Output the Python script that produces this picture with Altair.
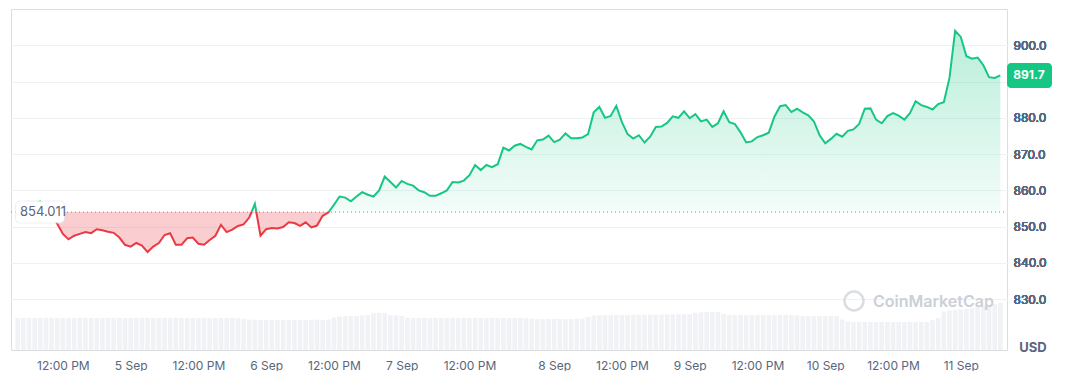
import altair as alt
import pandas as pd

# ---- data ----
hours = list(range(4, 179))  # time index, hours from 4 Sep 00:00 (display axis)
price = [
    855.8, 856.3, 855.9, 856.5, 857.0, 855.5, 853.5, 850.8, 848.0, 846.5,
    847.5, 848.0, 848.5, 848.2, 849.3, 849.0, 848.6, 848.3, 847.0, 845.0,
    844.5, 845.5, 844.8, 843.0, 844.5, 845.5, 847.7, 848.2, 845.0, 845.0,
    846.8, 847.0, 845.3, 845.0, 846.3, 847.5, 850.5, 848.5, 849.2, 850.2,
    850.6, 852.5, 856.3, 847.5, 849.3, 849.6, 849.5, 849.9, 851.2, 851.0,
    850.2, 851.2, 849.8, 850.3, 853.0, 853.9, 856.0, 858.3, 858.0, 857.0,
    858.3, 859.5, 858.8, 858.3, 860.0, 863.8, 862.3, 860.8, 862.6, 861.8,
    861.3, 860.0, 859.5, 858.5, 858.5, 859.2, 860.0, 862.3, 862.2, 862.7,
    864.2, 867.0, 865.6, 867.0, 866.4, 867.2, 871.8, 871.0, 872.3, 872.8,
    872.0, 871.3, 873.8, 874.0, 875.1, 873.3, 874.0, 875.7, 874.4, 874.4,
    874.6, 875.5, 881.5, 883.0, 880.0, 880.5, 883.3, 878.8, 875.5, 874.3,
    875.2, 873.2, 874.8, 877.5, 877.6, 878.6, 880.4, 880.0, 881.8, 879.9,
    881.0, 879.0, 879.5, 877.5, 878.5, 881.8, 878.8, 878.3, 876.0, 873.2,
    873.5, 874.7, 875.2, 875.9, 880.3, 883.2, 883.5, 881.6, 882.5, 881.5,
    880.7, 879.0, 875.2, 873.0, 874.2, 875.6, 874.8, 876.4, 876.8, 878.3,
    882.5, 882.6, 879.5, 878.5, 880.5, 881.3, 880.6, 879.5, 881.3, 884.6,
    883.5, 883.0, 882.3, 883.8, 884.3, 891.0, 904.0, 902.3, 897.0, 896.3,
    896.6, 894.5, 891.2, 891.0, 891.7,
]
volume = [
    320, 322, 321, 319, 320, 322, 323, 321, 320, 319,
    320, 321, 322, 320, 319, 320, 321, 322, 321, 320,
    319, 320, 322, 321, 320, 319, 320, 321, 322, 320,
    319, 320, 321, 320, 318, 319, 320, 321, 320, 318,
    312, 305, 302, 300, 301, 300, 302, 301, 300, 302,
    301, 300, 302, 303, 301, 305, 325, 335, 338, 340,
    342, 345, 350, 368, 372, 370, 348, 345, 340, 322,
    320, 321, 320, 319, 320, 321, 320, 322, 321, 320,
    319, 320, 321, 320, 322, 320, 321, 320, 319, 320,
    318, 312, 310, 309, 310, 311, 310, 309, 310, 312,
    315, 330, 345, 348, 350, 350, 352, 351, 350, 352,
    353, 352, 355, 354, 355, 356, 355, 356, 357, 358,
    372, 378, 380, 381, 380, 360, 352, 350, 351, 350,
    349, 350, 351, 350, 349, 350, 351, 350, 345, 340,
    340, 341, 340, 342, 341, 340, 305, 285, 280, 281,
    280, 279, 280, 281, 280, 279, 280, 281, 280, 282,
    281, 280, 300, 320, 385, 395, 400, 405, 410, 420,
    430, 440, 450, 460, 470,
]
base_price = 854.011
tick_hours = [12, 24, 36, 48, 60, 72, 84, 99, 111, 123, 135, 147, 159, 171]
tick_labels = ["12:00 PM", "5 Sep", "12:00 PM", "6 Sep", "12:00 PM", "7 Sep", "12:00 PM",
               "8 Sep", "12:00 PM", "9 Sep", "12:00 PM", "10 Sep", "12:00 PM", "11 Sep"]
grid_values = [830, 840, 850, 860, 870, 880, 890, 900]
hidden_label = 890

# ---- styling ----
W, H = 996, 341
GREEN = "#16c784"
RED = "#ea3943"
GREY = "#58667e"
FONT = "Inter"

df = pd.DataFrame({"t": hours, "price": price, "vol": volume})
last = df.tail(1)
base_df = pd.DataFrame({"base": [base_price]})

xs = alt.Scale(domain=[3.7, 178.3], nice=False, zero=False)
ys = alt.Scale(domain=[816, 910], nice=False, zero=False)
vs = alt.Scale(domain=[0, 3410], nice=False, zero=True)

label_expr = ("[" + ",".join("'%s'" % l for l in tick_labels) + "][indexof(["
              + ",".join(str(h) for h in tick_hours) + "], datum.value)]")
x_axis = alt.Axis(values=tick_hours, labelExpr=label_expr, grid=False, domain=False,
                  ticks=False, labelPadding=10, labelColor=GREY, labelFontSize=12,
                  labelFont=FONT, title=None)
y_axis = alt.Axis(orient="right", values=grid_values,
                  grid=True, gridColor="#eff2f5", domain=False, ticks=False,
                  labelPadding=6, labelColor=GREY, labelFontSize=12, labelFont=FONT,
                  title=None,
                  labelExpr="datum.value == %d ? '' : format(datum.value, '.1f')" % hidden_label)

X = alt.X("t:Q", scale=xs, axis=x_axis)

vol_layer = alt.Chart(df).mark_bar(color="#f0f2f5", width=4.6, clip=True).encode(
    x=X, y=alt.Y("vol:Q", scale=vs, axis=None)
)

pmax, pmin = max(price), min(price)
off = (pmax - base_price) / (pmax - pmin)

green_fill = alt.Gradient(
    gradient="linear",
    stops=[alt.GradientStop(color="rgba(22,199,132,0.30)", offset=0),
           alt.GradientStop(color="rgba(22,199,132,0.05)", offset=1)],
    x1=0, x2=0, y1=0, y2=1,
)
line_stroke = alt.Gradient(
    gradient="linear",
    stops=[alt.GradientStop(color=GREEN, offset=0),
           alt.GradientStop(color=GREEN, offset=off),
           alt.GradientStop(color=RED, offset=off),
           alt.GradientStop(color=RED, offset=1)],
    x1=0, x2=0, y1=0, y2=1,
)

red_area = alt.Chart(df).transform_calculate(
    lo="min(datum.price, %f)" % base_price
).mark_area(color=RED, opacity=0.25).encode(
    x=X, y=alt.Y("lo:Q", scale=ys, axis=y_axis), y2=alt.datum(base_price)
)
green_area = alt.Chart(df).transform_calculate(
    hi="max(datum.price, %f)" % base_price
).mark_area(fill=green_fill).encode(
    x=X, y=alt.Y("hi:Q", scale=ys, axis=y_axis), y2=alt.datum(base_price)
)
base_rule = alt.Chart(base_df).mark_rule(color="#808a9d", strokeDash=[1, 3], strokeWidth=1).encode(
    y=alt.Y("base:Q", scale=ys, axis=y_axis), x=alt.value(0), x2=alt.value(W)
)
price_line = alt.Chart(df).mark_line(stroke=line_stroke, strokeWidth=2).encode(
    x=X, y=alt.Y("price:Q", scale=ys, axis=y_axis)
)

base_shadow = alt.Chart(base_df).mark_rect(
    fill="#e6e9ee", height=23, cornerRadius=5, opacity=0.7
).encode(y=alt.Y("base:Q", scale=ys, axis=y_axis), x=alt.value(4), x2=alt.value(54))
base_box = alt.Chart(base_df).mark_rect(
    fill="white", height=21, cornerRadius=4
).encode(y=alt.Y("base:Q", scale=ys, axis=y_axis), x=alt.value(5), x2=alt.value(53))
base_text = alt.Chart(base_df).mark_text(
    align="left", baseline="middle", fontSize=13, color=GREY, font=FONT
).encode(y=alt.Y("base:Q", scale=ys, axis=y_axis), x=alt.value(9),
         text=alt.Text("base:Q", format=".3f"))

tag_box = alt.Chart(last).mark_rect(fill=GREEN, height=25, cornerRadius=4).encode(
    y=alt.Y("price:Q", scale=ys, axis=y_axis), x=alt.value(W), x2=alt.value(W + 45)
)
tag_text = alt.Chart(last).mark_text(
    align="center", baseline="middle", fontSize=12, fontWeight="bold", color="white", font=FONT
).encode(y=alt.Y("price:Q", scale=ys, axis=y_axis), x=alt.value(W + 22),
         text=alt.Text("price:Q", format=".1f"))

usd = alt.Chart(base_df).mark_text(
    align="center", baseline="middle", fontSize=13, fontWeight="bold", color=GREY, font=FONT
).encode(x=alt.value(W + 26), y=alt.value(H - 2), text=alt.value("USD"))

wm_logo = alt.Chart(base_df).mark_point(
    shape="circle", filled=False, size=360, stroke="#cbd0d7", strokeWidth=2.5
).encode(x=alt.value(843), y=alt.value(292))
wm_text = alt.Chart(base_df).mark_text(
    align="left", baseline="middle", fontSize=16, fontWeight=600, color="#cbd0d7", font=FONT
).encode(x=alt.value(862), y=alt.value(293), text=alt.value("CoinMarketCap"))

chart = alt.layer(
    vol_layer, red_area, green_area, base_rule, price_line,
    base_shadow, base_box, base_text, tag_box, tag_text, usd, wm_logo, wm_text
).resolve_scale(y="independent").properties(
    width=W, height=H, padding={"left": 2, "top": 1, "right": 0, "bottom": 0}
).configure_view(stroke="#eff2f5").configure(background="white")

chart.save("out.html", embed_options={"renderer": "svg", "actions": False})
